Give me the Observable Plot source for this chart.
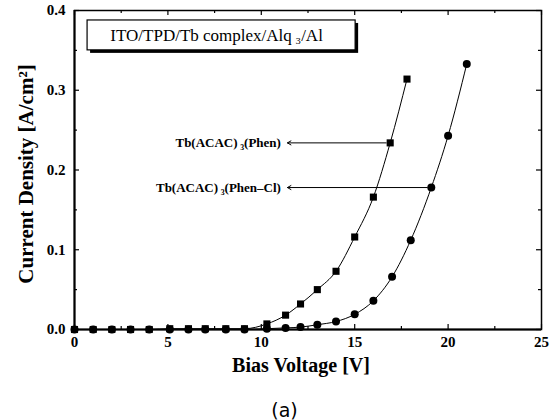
<!DOCTYPE html>
<html>
<head>
<meta charset="utf-8">
<script src="https://cdn.jsdelivr.net/npm/d3@7"></script>
<script src="https://cdn.jsdelivr.net/npm/@observablehq/plot@0.6"></script>
<style>
  html, body { margin: 0; padding: 0; background: #fff; }
</style>
</head>
<body>
<div id="chart"></div>
<script>
// Tb(ACAC)3(Phen) — squares
const phenV = [0, 1, 2, 3, 4, 5.1, 6.1, 7, 8.1, 9.1, 10.3, 11.3, 12.1, 13, 14, 15, 16, 16.9, 17.8];
const phenJ = [0, 0, 0, 0, 0, 0.001, 0.001, 0.001, 0.001, 0.001, 0.007, 0.018, 0.032, 0.050, 0.073, 0.116, 0.166, 0.234, 0.314];
// Tb(ACAC)3(Phen-Cl) — circles
const phenClV = [0, 1, 2, 3, 4, 5.1, 6.1, 7, 8.1, 9.1, 10.3, 11.3, 12.1, 13, 14, 15, 16, 17, 18, 19.1, 20, 21];
const phenClJ = [0, 0, 0, 0, 0, 0, 0, 0, 0, 0, 0.001, 0.002, 0.003, 0.006, 0.010, 0.019, 0.036, 0.066, 0.112, 0.178, 0.243, 0.333];

const xMajor = [0, 5, 10, 15, 20, 25];
const xMinor = [2.5, 7.5, 12.5, 17.5, 22.5];
const yMajor = [0, 0.1, 0.2, 0.3, 0.4];
const yMinor = [0.05, 0.15, 0.25, 0.35];

// annotations
const labelTexts = ["Tb(ACAC)\u2009\u2083(Phen)", "Tb(ACAC)\u2009\u2083(Phen\u2013Cl)"];
const labelEndV = [11.05, 11.05];
const labelJ = [0.234, 0.178];
const arrowFromV = [16.9, 19.1];
const arrowToV = [11.4, 11.4];
const boxText = "ITO/TPD/Tb complex/Alq\u2009\u2083/Al";
const boxV = [0.7, 15.05];
const boxJ = [0.35, 0.3875];
const panelLabel = "(a)";

const phen = phenV.map((v, i) => ({v, j: phenJ[i]}));
const phenCl = phenClV.map((v, i) => ({v, j: phenClJ[i]}));
const labels = labelTexts.map((t, i) => ({t, v: labelEndV[i], j: labelJ[i], v1: arrowFromV[i], v2: arrowToV[i]}));
const box = [{x1: boxV[0], x2: boxV[1], y1: boxJ[0], y2: boxJ[1], t: boxText}];

const W = 555, H = 420, ML = 74, MR = 14, MT = 10, MB = 91;
const FW = W - ML - MR, FH = H - MT - MB;
const serif = "'Liberation Serif', 'Times New Roman', serif";

const chart = Plot.plot({
  width: W, height: H,
  marginLeft: ML, marginRight: MR, marginTop: MT, marginBottom: MB,
  style: {fontFamily: serif, background: "#fff", color: "#000"},
  x: {domain: [0, 25]},
  y: {domain: [0, 0.4]},
  marks: [
    // inward ticks
    Plot.tickY(yMajor, {y: d => d, insetRight: FW - 5, stroke: "#000", strokeWidth: 1.2}),
    Plot.tickY(yMinor, {y: d => d, insetRight: FW - 3, stroke: "#000", strokeWidth: 1.2}),
    Plot.tickY(yMajor, {y: d => d, insetLeft: FW - 5, stroke: "#000", strokeWidth: 1.2}),
    Plot.tickY(yMinor, {y: d => d, insetLeft: FW - 3, stroke: "#000", strokeWidth: 1.2}),
    Plot.tickX(xMajor, {x: d => d, insetTop: FH - 5, stroke: "#000", strokeWidth: 1.2}),
    Plot.tickX(xMinor, {x: d => d, insetTop: FH - 3, stroke: "#000", strokeWidth: 1.2}),
    Plot.tickX(xMajor, {x: d => d, insetBottom: FH - 5, stroke: "#000", strokeWidth: 1.2}),
    Plot.tickX(xMinor, {x: d => d, insetBottom: FH - 3, stroke: "#000", strokeWidth: 1.2}),
    Plot.frame({stroke: "#000", strokeWidth: 1.5}),
    Plot.ruleX([0], {stroke: "#000", strokeWidth: 2}),
    Plot.ruleY([0], {stroke: "#000", strokeWidth: 2}),
    Plot.axisX({ticks: xMajor, tickSize: 0, tickPadding: 7, tickFormat: d => String(d),
      fontSize: 15, fontWeight: "bold", label: null}),
    Plot.axisY({ticks: yMajor, tickSize: 0, tickPadding: 9, tickFormat: d => d.toFixed(1),
      fontSize: 15, fontWeight: "bold", label: null}),
    Plot.text(["Bias Voltage [V]"], {frameAnchor: "bottom", dx: -7, dy: 36, fontSize: 20, fontWeight: "bold", lineAnchor: "middle", fill: "#000"}),
    Plot.text(["Current Density [A/cm\u00B2]"], {frameAnchor: "left", textAnchor: "middle", lineAnchor: "middle", dx: -48, dy: 4, rotate: -90, fontSize: 21, fontWeight: "bold", fill: "#000"}),
    Plot.text([panelLabel], {frameAnchor: "bottom", dx: 284 - (ML + FW / 2), dy: 81, lineAnchor: "middle", fontSize: 19, fontFamily: "'DejaVu Sans', sans-serif", fill: "#000"}),
    // title box with shadow
    Plot.rect(box, {x1: "x1", x2: "x2", y1: "y1", y2: "y2", fill: "#000", dx: 3, dy: 3}),
    Plot.rect(box, {x1: "x1", x2: "x2", y1: "y1", y2: "y2", fill: "#fff", stroke: "#000", strokeWidth: 1.2}),
    Plot.text(box, {x: d => (d.x1 + d.x2) / 2, y: d => (d.y1 + d.y2) / 2, text: "t", dx: -5, fontSize: 17, fill: "#000"}),
    // curves
    Plot.line(phen, {x: "v", y: "j", stroke: "#000", strokeWidth: 1, curve: "monotone-x"}),
    Plot.line(phenCl, {x: "v", y: "j", stroke: "#000", strokeWidth: 1, curve: "monotone-x"}),
    Plot.dot(phenCl, {x: "v", y: "j", r: 4, fill: "#000", symbol: "circle"}),
    Plot.dot(phen, {x: "v", y: "j", r: 4, fill: "#000", symbol: "square"}),
    // annotations
    Plot.arrow(labels, {x1: "v1", x2: "v2", y1: "j", y2: "j", stroke: "#000", strokeWidth: 1, headLength: 6, insetStart: 4}),
    Plot.text(labels, {x: "v", y: "j", text: "t", textAnchor: "end", fontSize: 13, fontWeight: "bold", fill: "#000"})
  ]
});
document.getElementById("chart").append(chart);
</script>
</body>
</html>
